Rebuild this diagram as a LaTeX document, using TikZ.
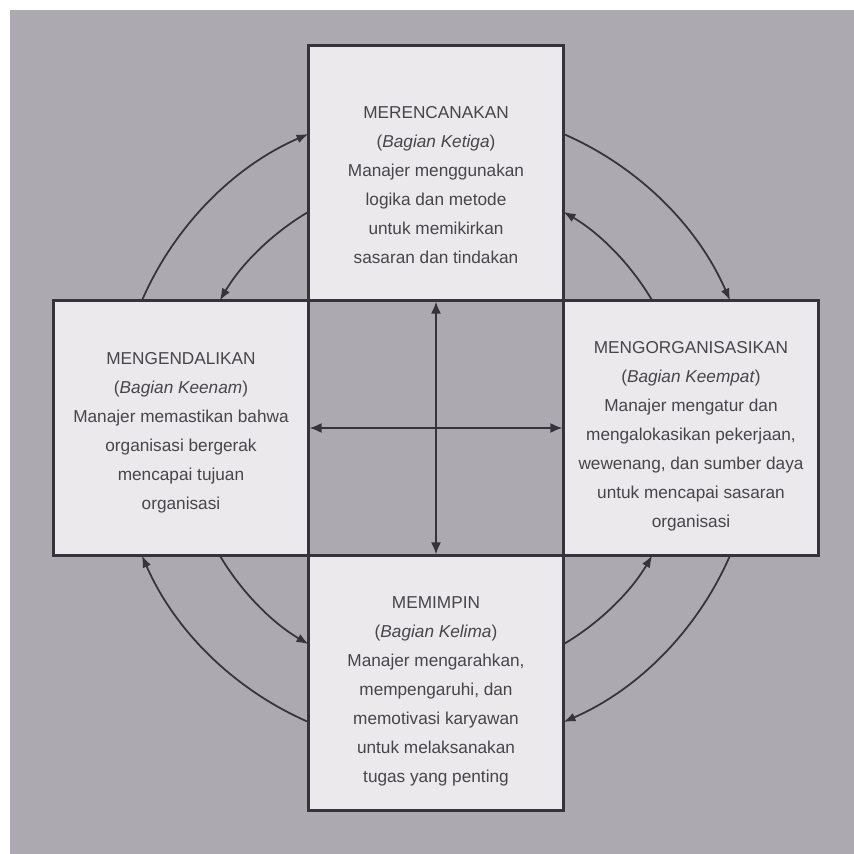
\documentclass[tikz,border=0pt]{standalone}
\usepackage{fontspec}
\setmainfont{Liberation Sans}
\usetikzlibrary{arrows.meta,positioning}
\definecolor{latar}{RGB}{172,170,176}
\definecolor{isikotak}{RGB}{235,233,235}
\definecolor{garis}{RGB}{55,50,60}
\definecolor{tulisan}{RGB}{72,68,76}
\tikzset{
  fase/.style={
    shape = rectangle,
    draw = garis,
    line width = 0.045cm,
    fill = isikotak,
    minimum size = 5.1cm
  },
  teks/.style={
    align = center,
    text = tulisan,
    inner sep = 0pt,
    font = \fontsize{9.8}{16.5}\selectfont
  },
  siklus/.style={
    draw = garis,
    line width = 0.035cm,
    -{Latex[length=0.24cm,width=0.18cm]}
  },
  silang/.style={
    draw = garis,
    line width = 0.035cm,
    {Latex[length=0.24cm,width=0.2cm]}-{Latex[length=0.24cm,width=0.2cm]}
  },
}

\begin{document}
\begin{tikzpicture}
  \useasboundingbox (-8.72,-8.52) rectangle (8.36,8.56);
  \fill[white] (-8.72,-8.52) rectangle (8.36,8.56);
  \fill[latar] (-8.52,-8.52) rectangle (8.36,8.36);
  \coordinate (pusat) at (0,0);
  % four phases round the gray centre square
  \node[fase] (atas) at (0,5.1) {};
  \node[fase] (kanan) at (5.1,0) {};
  \node[fase] (bawah) at (0,-5.1) {};
  \node[fase] (kiri) at (-5.1,0) {};
  \node[teks] (atasteks) at ([yshift=-0.24cm]atas) {MERENCANAKAN\\(\textit{Bagian Ketiga})\\Manajer menggunakan\\logika dan metode\\untuk memikirkan\\sasaran dan tindakan};
  \node[teks] (kananteks) at ([yshift=-0.16cm]kanan) {MENGORGANISASIKAN\\(\textit{Bagian Keempat})\\Manajer mengatur dan\\mengalokasikan pekerjaan,\\wewenang, dan sumber daya\\untuk mencapai sasaran\\organisasi};
  \node[teks] (bawahteks) at ([yshift=-0.16cm]bawah) {MEMIMPIN\\(\textit{Bagian Kelima})\\Manajer mengarahkan,\\mempengaruhi, dan\\memotivasi karyawan\\untuk melaksanakan\\tugas yang penting};
  \node[teks] (kiriteks) at ([yshift=-0.1cm]kiri) {MENGENDALIKAN\\(\textit{Bagian Keenam})\\Manajer memastikan bahwa\\organisasi bergerak\\mencapai tujuan\\organisasi};
  \draw[silang] (atas.south) -- (bawah.north);
  \draw[silang] (kiri.east) -- (kanan.west);
  % outer ring clockwise, inner ring the other way
  \foreach \q in {0,90,180,270}{
    \draw[siklus] ([shift={(\q+66.56:6.41)}]pusat) arc[start angle=\q+66.56, end angle=\q+23.44, radius=6.41];
    \draw[siklus] ([shift={(\q+30.53:5.02)}]pusat) arc[start angle=\q+30.53, end angle=\q+59.47, radius=5.02];
  }
\end{tikzpicture}
\end{document}
